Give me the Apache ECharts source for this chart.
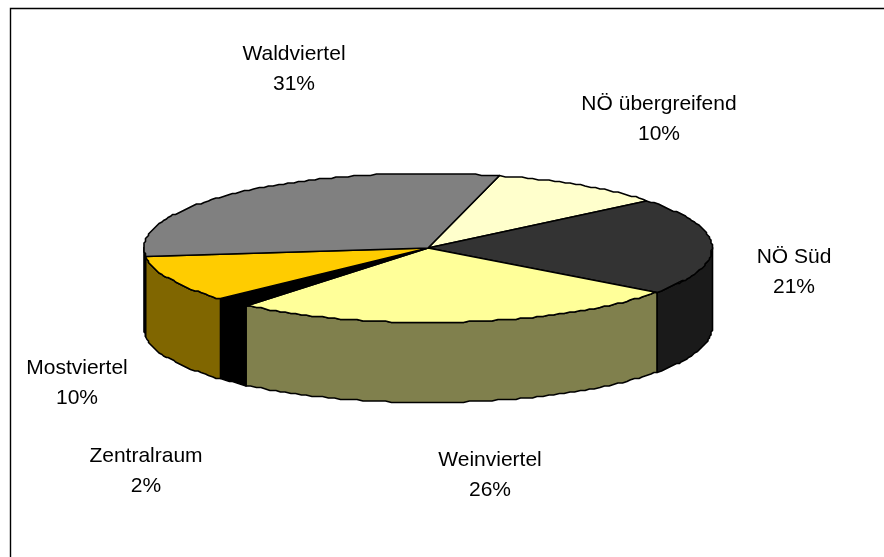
<!DOCTYPE html>
<html>
<head>
<meta charset="utf-8">
<style>html,body{margin:0;padding:0;background:#fff}#chart{width:884px;height:557px}</style>
<script src="https://cdn.jsdelivr.net/npm/echarts@6/dist/echarts.min.js"></script>
</head>
<body>
<div id="chart"></div>
<script>
// Regional shares, clockwise from the first slice
const regions = ['NÖ übergreifend', 'NÖ Süd', 'Weinviertel', 'Zentralraum', 'Mostviertel', 'Waldviertel'];
const shares = [10, 21, 26, 2, 10, 31];
const topColors = ['#FFFFCC', '#333333', '#FFFF99', '#000000', '#FFCC00', '#808080'];
const wallColors = ['#80806A', '#1A1A1A', '#80804D', '#000000', '#806600', '#404040'];
// Centre of each two-line label
const labelCentres = [[659, 119], [794, 272], [490, 475], [146, 471], [77, 383], [294, 69]];

// Tilted disc geometry
const disc = { cx: 428, cy: 248, rx: 284, ry: 74.5, depth: 80, startDeg: 14.5 };
const total = shares.reduce((a, b) => a + b, 0);

function slice(i) {
  const before = shares.slice(0, i).reduce((a, b) => a + b, 0);
  return {
    from: disc.startDeg + before / total * 360,
    to: disc.startDeg + (before + shares[i]) / total * 360
  };
}
// Degrees run clockwise from twelve o'clock; the rim is snapped to a coarse grid
const snap = v => Math.round(v / 1.5) * 1.5;
function rim(deg, drop) {
  const r = deg * Math.PI / 180;
  return [snap(disc.cx + disc.rx * Math.sin(r)), snap(disc.cy - disc.ry * Math.cos(r)) + (drop || 0)];
}
function arc(from, to, drop) {
  const pts = [];
  const n = Math.max(2, Math.ceil(Math.abs(to - from) / 1.2));
  for (let k = 0; k <= n; k++) pts.push(rim(from + (to - from) * k / n, drop));
  return pts;
}

const edge = { stroke: '#000', lineWidth: 1.6, lineJoin: 'round' };

function renderWall(params) {
  const s = slice(params.dataIndex);
  // Only the part of the rim facing the viewer has a visible wall
  const from = Math.max(s.from, 90), to = Math.min(s.to, 270);
  if (from >= to) return { type: 'group', children: [] };
  return {
    type: 'polygon',
    shape: { points: arc(from, to, 0).concat(arc(to, from, disc.depth)) },
    style: Object.assign({ fill: wallColors[params.dataIndex] }, edge)
  };
}
function renderTop(params) {
  const i = params.dataIndex, s = slice(i);
  return {
    type: 'polygon',
    shape: { points: [[disc.cx, disc.cy]].concat(arc(s.from, s.to, 0)) },
    style: Object.assign({ fill: topColors[i] }, edge)
  };
}
function renderLabel(params) {
  const i = params.dataIndex;
  return {
    type: 'text',
    x: labelCentres[i][0],
    y: labelCentres[i][1],
    style: {
      text: regions[i] + '\n' + Math.round(shares[i] / total * 100) + '%',
      fill: '#000',
      font: '21px "Liberation Sans", Arial, sans-serif',
      lineHeight: 30,
      align: 'center',
      verticalAlign: 'middle'
    }
  };
}

const rows = shares.map((v, i) => ({ name: regions[i], value: v }));
const chart = echarts.init(document.getElementById('chart'), null, { renderer: 'canvas' });
chart.setOption({
  animation: false,
  backgroundColor: '#fff',
  graphic: [{
    type: 'polyline',
    shape: { points: [[10.5, 557], [10.5, 8.5], [884, 8.5]] },
    style: { stroke: '#000', lineWidth: 1.4, fill: null }
  }],
  series: [
    { type: 'custom', coordinateSystem: 'none', renderItem: renderWall, data: rows, z: 1, silent: true },
    { type: 'custom', coordinateSystem: 'none', renderItem: renderTop, data: rows, z: 2, silent: true },
    { type: 'custom', coordinateSystem: 'none', renderItem: renderLabel, data: rows, z: 3, silent: true }
  ]
});
</script>
</body>
</html>
